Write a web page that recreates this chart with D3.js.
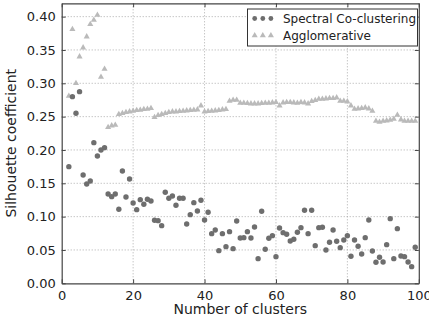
<!DOCTYPE html>
<html>
<head>
<meta charset="utf-8">
<script src="https://cdn.jsdelivr.net/npm/d3@7"></script>
<style>
  body { margin: 0; background: #fff; }
  svg text { font-family: "DejaVu Sans", sans-serif; fill: #222; }
</style>
</head>
<body>
<svg id="chart" width="429" height="321"></svg>
<script>
// cluster counts 2..99
const clusters = d3.range(2, 100);

const spectral = [
  0.175, 0.280, 0.255, 0.2875, 0.1625, 0.149, 0.1535, 0.211, 0.191, 0.200,
  0.2035, 0.134, 0.130, 0.134, 0.111, 0.1685, 0.1295, 0.1565, 0.1205, 0.1105,
  0.1255, 0.1185, 0.126, 0.1235, 0.0945, 0.094, 0.0865, 0.1365, 0.1275, 0.131,
  0.117, 0.1275, 0.1275, 0.089, 0.103, 0.121, 0.1085, 0.1245, 0.095, 0.1065,
  0.0745, 0.080, 0.049, 0.0745, 0.055, 0.0775, 0.052, 0.0935, 0.068, 0.0685,
  0.0775, 0.068, 0.0845, 0.037, 0.108, 0.051, 0.0675, 0.0715, 0.040, 0.083,
  0.076, 0.0735, 0.0635, 0.066, 0.0765, 0.0835, 0.1095, 0.0745, 0.1095, 0.0565,
  0.0835, 0.084, 0.050, 0.0615, 0.080, 0.063, 0.0535, 0.065, 0.0715, 0.0405,
  0.065, 0.0555, 0.044, 0.0685, 0.095, 0.0485, 0.0315, 0.039, 0.032, 0.058,
  0.097, 0.037, 0.082, 0.041, 0.040, 0.032, 0.025, 0.054
];

const agglomerative = [
  0.281, 0.381, 0.300, 0.340, 0.3535, 0.370, 0.3885, 0.395, 0.4025, 0.3095,
  0.3215, 0.234, 0.2365, 0.2375, 0.2535, 0.255, 0.2565, 0.2575, 0.2585, 0.2595,
  0.260, 0.261, 0.2615, 0.2625, 0.249, 0.252, 0.2535, 0.255, 0.2565, 0.2575,
  0.2575, 0.258, 0.2585, 0.259, 0.2595, 0.260, 0.2605, 0.2665, 0.2575, 0.258,
  0.2585, 0.259, 0.2595, 0.2605, 0.261, 0.2735, 0.275, 0.275, 0.2705, 0.2705,
  0.270, 0.2695, 0.2695, 0.2695, 0.270, 0.2705, 0.2705, 0.271, 0.2715, 0.2665,
  0.271, 0.2715, 0.2715, 0.271, 0.2705, 0.2715, 0.271, 0.2695, 0.273, 0.2745,
  0.2765, 0.2765, 0.277, 0.2775, 0.2775, 0.2785, 0.2735, 0.2735, 0.2725, 0.2665,
  0.2615, 0.262, 0.2625, 0.2635, 0.262, 0.2585, 0.2435, 0.242, 0.2435, 0.244,
  0.245, 0.2465, 0.2525, 0.2455, 0.2435, 0.2435, 0.2435, 0.2435
];

const xTicks = [0, 20, 40, 60, 80, 100];
const yTicks = [0.00, 0.05, 0.10, 0.15, 0.20, 0.25, 0.30, 0.35, 0.40];
const seriesNames = ["Spectral Co-clustering", "Agglomerative"];

const svg = d3.select("#chart");
const plotLeft = 61.7, plotRight = 418.8, plotTop = 3.3, plotBottom = 283.3;

const x = d3.scaleLinear().domain([0, 100]).range([plotLeft, plotRight]);
const y = d3.scaleLinear().domain([0, 0.42]).range([plotBottom, plotTop]);

const darkCol = "#6e6e6e", lightCol = "#bababa";

// grid
const grid = svg.append("g");
grid.selectAll(".gx").data(xTicks.slice(1, -1)).enter().append("line")
  .attr("x1", d => x(d)).attr("x2", d => x(d))
  .attr("y1", plotTop).attr("y2", plotBottom)
  .attr("stroke", "#999").attr("stroke-width", 0.8).attr("stroke-dasharray", "1,2");
grid.selectAll(".gy").data(yTicks.slice(1)).enter().append("line")
  .attr("x1", plotLeft).attr("x2", plotRight)
  .attr("y1", d => y(d)).attr("y2", d => y(d))
  .attr("stroke", "#999").attr("stroke-width", 0.8).attr("stroke-dasharray", "1,2");

// agglomerative triangles
const tri = d3.symbol().type(d3.symbolTriangle).size(16);
svg.append("g").selectAll("path").data(clusters).enter().append("path")
  .attr("d", tri)
  .attr("transform", (d, i) => `translate(${x(d)},${y(agglomerative[i])})`)
  .attr("fill", lightCol);

// spectral circles
svg.append("g").selectAll("circle").data(clusters).enter().append("circle")
  .attr("cx", d => x(d)).attr("cy", (d, i) => y(spectral[i]))
  .attr("r", 2.7).attr("fill", darkCol);

// axes (ticks inside, on all four sides)
const axB = svg.append("g").attr("transform", `translate(0,${plotBottom})`)
  .call(d3.axisBottom(x).tickValues(xTicks).tickFormat(d3.format("d")).tickSizeInner(-4).tickSizeOuter(0).tickPadding(7));
const axT = svg.append("g").attr("transform", `translate(0,${plotTop})`)
  .call(d3.axisTop(x).tickValues(xTicks).tickFormat("").tickSizeInner(-4).tickSizeOuter(0));
const axL = svg.append("g").attr("transform", `translate(${plotLeft},0)`)
  .call(d3.axisLeft(y).tickValues(yTicks).tickFormat(d3.format(".2f")).tickSizeInner(-4).tickSizeOuter(0).tickPadding(6));
const axR = svg.append("g").attr("transform", `translate(${plotRight},0)`)
  .call(d3.axisRight(y).tickValues(yTicks).tickFormat("").tickSizeInner(-4).tickSizeOuter(0));
[axB, axT, axL, axR].forEach(a => {
  a.select(".domain").attr("stroke", "#444").attr("stroke-width", 1.2);
  a.selectAll(".tick line").attr("stroke", "#444");
  a.selectAll("text").attr("font-size", 13).attr("font-family", "DejaVu Sans").attr("fill", "#222");
});

// axis titles
svg.append("text").attr("x", (plotLeft + plotRight) / 2).attr("y", 314)
  .attr("text-anchor", "middle").attr("font-size", 14).text("Number of clusters");
svg.append("text").attr("transform", `translate(16,${(plotTop + plotBottom) / 2}) rotate(-90)`)
  .attr("text-anchor", "middle").attr("font-size", 14).text("Silhouette coefficient");

// legend
const lg = svg.append("g");
lg.append("rect").attr("x", 247.5).attr("y", 9).attr("width", 170).attr("height", 37)
  .attr("fill", "#fff").attr("stroke", "#333").attr("stroke-width", 1);
const legendX = [254.7, 262.8, 270.9];
lg.selectAll(".lc").data(legendX).enter().append("circle")
  .attr("cx", d => d).attr("cy", 18.5).attr("r", 2.4).attr("fill", darkCol);
lg.selectAll(".lt").data(legendX).enter().append("path")
  .attr("d", tri).attr("transform", d => `translate(${d},35.5)`).attr("fill", lightCol);
lg.selectAll(".ltx").data(seriesNames).enter().append("text")
  .attr("x", 283).attr("y", (d, i) => 22.8 + i * 17.2)
  .attr("font-size", 12).text(d => d);
</script>
</body>
</html>
